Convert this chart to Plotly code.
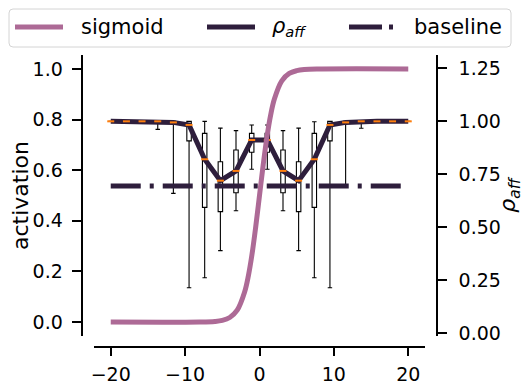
import plotly.graph_objects as go

sig_x = [-20, -8, -6, -5, -4, -3, -2, -1.5, -1, -0.5, 0, 0.5, 1, 1.5, 2, 3, 4, 5, 6, 8, 20]
sig_y = [0.0, 0.0003, 0.0025, 0.0067, 0.018, 0.047, 0.119, 0.182, 0.269, 0.378, 0.5,
         0.622, 0.731, 0.818, 0.881, 0.953, 0.982, 0.993, 0.9975, 0.9997, 1.0]

# box positions and rho_aff statistics (right axis)
positions = [-20.0, -17.89, -15.79, -13.68, -11.58, -9.47, -7.37, -5.26, -3.16, -1.05,
             1.05, 3.16, 5.26, 7.37, 9.47, 11.58, 13.68, 15.79, 17.89, 20.0]
medians = [1.0, 1.0, 1.0, 1.0, 0.995, 0.983, 0.821, 0.720, 0.766, 0.912,
           0.912, 0.766, 0.720, 0.821, 0.983, 0.995, 1.0, 1.0, 1.0, 1.0]
q1 = [1.0, 1.0, 1.0, 1.0, 0.99, 0.908, 0.594, 0.574, 0.663, 0.854,
      0.854, 0.663, 0.574, 0.594, 0.908, 0.99, 1.0, 1.0, 1.0, 1.0]
q3 = [1.0, 1.0, 1.0, 1.0, 1.0, 1.0, 0.943, 0.809, 0.865, 0.943,
      0.943, 0.865, 0.809, 0.943, 1.0, 1.0, 1.0, 1.0, 1.0, 1.0]
lower = [1.0, 1.0, 1.0, 0.962, 0.660, 0.215, 0.262, 0.390, 0.578, 0.774,
         0.774, 0.578, 0.390, 0.262, 0.215, 0.689, 0.967, 1.0, 1.0, 1.0]
upper = [1.0, 1.0, 1.0, 1.0, 1.0, 1.0, 1.0, 0.968, 0.956, 0.983,
         0.983, 0.956, 0.968, 0.998, 1.0, 1.0, 1.0, 1.0, 1.0, 1.0]
baseline_x = [-20, 20]
baseline_y = [0.695, 0.695]

x_ticks = [-20, -10, 0, 10, 20]
act_ticks = [0.0, 0.2, 0.4, 0.6, 0.8, 1.0]
rho_ticks = [0.0, 0.25, 0.5, 0.75, 1.0, 1.25]

sig_color = '#ad6a96'
dark = '#2e1e3c'
orange = '#ff7f0e'
font = 'DejaVu Sans'
rho_label = '<i>ρ</i><sub><i>aff</i></sub>'

# the page body has an 8px margin, so the figure is drawn 8px in from the corner
OFF = 8
W, H = 532 - 2 * OFF, 391 - OFF


def px(x, y):
    """screen pixel -> paper coords"""
    return (x - OFF) / W, 1 - (y - OFF) / H


fig = go.Figure()

fig.add_trace(go.Scatter(
    x=baseline_x, y=baseline_y, mode='lines', name='baseline', yaxis='y',
    line=dict(color=dark, width=5, dash='30px,9px,4px,9px')))
fig.add_trace(go.Scatter(
    x=positions, y=medians, mode='lines', name='rho_aff', yaxis='y',
    line=dict(color=dark, width=5)))
fig.add_trace(go.Box(
    x=positions, q1=q1, median=medians, q3=q3, lowerfence=lower, upperfence=upper,
    yaxis='y', width=0.6, whiskerwidth=1, boxpoints=False,
    line=dict(color='black', width=1.1), fillcolor='rgba(0,0,0,0)', hoverinfo='skip'))
fig.add_trace(go.Scatter(
    x=positions, y=medians, mode='markers', yaxis='y',
    marker=dict(symbol='line-ew', size=5, line=dict(color=orange, width=2))))
fig.add_trace(go.Scatter(
    x=sig_x, y=sig_y, mode='lines', name='sigmoid', yaxis='y2',
    line=dict(color=sig_color, width=5, shape='spline', smoothing=1)))

# legend box drawn by hand (matplotlib style, rounded corners)
lx0, ly0 = px(9, 9)
lx1, ly1 = px(511, 47)
rx, ry = 4 / W, 4 / H
path = (f"M{lx0 + rx},{ly0} L{lx1 - rx},{ly0} Q{lx1},{ly0} {lx1},{ly0 - ry} "
        f"L{lx1},{ly1 + ry} Q{lx1},{ly1} {lx1 - rx},{ly1} L{lx0 + rx},{ly1} "
        f"Q{lx0},{ly1} {lx0},{ly1 + ry} L{lx0},{ly0 - ry} Q{lx0},{ly0} {lx0 + rx},{ly0} Z")
fig.add_shape(type='path', path=path, xref='paper', yref='paper',
              line=dict(color='#d4d4d4', width=1), fillcolor='white', layer='above')

legend_items = [
    ('sigmoid', sig_color, [(15, 63)], 79),
    (rho_label, dark, [(207, 255)], 270),
    ('baseline', dark, [(349, 382), (389, 393)], 412),
]
ly = 27
for label, color, segs, tx in legend_items:
    for a, b in segs:
        xa, ya = px(a, ly)
        xb, _ = px(b, ly)
        fig.add_shape(type='line', xref='paper', yref='paper', x0=xa, x1=xb, y0=ya, y1=ya,
                      line=dict(color=color, width=5), layer='above')
    tx_p, ty_p = px(tx, ly)
    fig.add_annotation(x=tx_p, y=ty_p, xref='paper', yref='paper', text=label,
                       showarrow=False, xanchor='left', yanchor='middle',
                       font=dict(family=font, size=21, color='black'))

axis_common = dict(showgrid=False, zeroline=False, showline=True, linecolor='black',
                   linewidth=2.2, ticks='outside', tickcolor='black', tickwidth=2,
                   automargin=False,
                   tickfont=dict(family=font, size=19, color='black'))

xd0, yd0 = px(94, 336)
xd1, yd1 = px(425, 55)
fig.update_layout(
    width=W, height=H,
    margin=dict(l=0, r=0, t=0, b=0, autoexpand=False),
    plot_bgcolor='white', paper_bgcolor='white',
    font=dict(family=font, color='black'),
    showlegend=False,
    xaxis=dict(domain=[xd0, xd1], anchor='free', position=px(0, 346.7)[1],
               range=[-22.25, 22.25], tickvals=x_ticks, ticklen=8,
               ticklabelstandoff=2, **axis_common),
    yaxis=dict(domain=[yd0, yd1], anchor='free', position=px(436.7, 0)[0],
               side='right', range=[-0.013, 1.313], tickvals=rho_ticks, tickformat='.2f',
               ticklen=9, ticklabelstandoff=8,
               title=dict(text=rho_label, standoff=0, font=dict(family=font, size=22)),
               **axis_common),
    yaxis2=dict(domain=[yd0, yd1], anchor='free', position=px(81.7, 0)[0],
                side='left', overlaying='y', range=[-0.055, 1.055], tickvals=act_ticks,
                tickformat='.1f', ticklen=9, ticklabelstandoff=5,
                title=dict(text='activation', standoff=0, font=dict(family=font, size=22)),
                **axis_common),
)

fig.write_html("out.html")
